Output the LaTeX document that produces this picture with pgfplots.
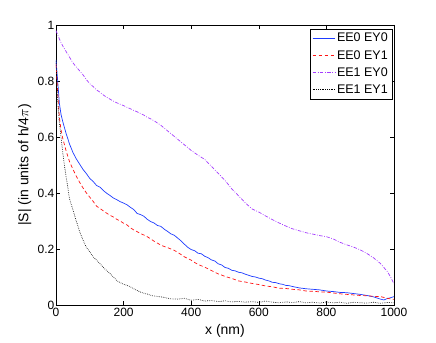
\documentclass[border=0pt]{standalone}
\usepackage{fontspec}
\setmainfont{Liberation Sans}
\usepackage{pgfplots}
\pgfplotsset{compat=1.18}

\definecolor{eeblue}{RGB}{30,60,255}
\definecolor{eered}{RGB}{255,20,20}
\definecolor{eepurple}{RGB}{165,60,255}

\newcommand{\fs}{\fontsize{12bp}{14bp}\selectfont}

\begin{document}
\begin{tikzpicture}
\path[use as bounding box] (-56bp,-38bp) rectangle (380bp,305bp);
\begin{axis}[
scale only axis,
width=338bp, height=280bp,
xmin=0, xmax=1000, ymin=0, ymax=1,
xtick={0,200,400,600,800,1000},
ytick={0,0.2,0.4,0.6,0.8,1},
/pgf/number format/1000 sep={},
/pgf/number format/assume math mode=true,
tick label style={font=\fs},
yticklabel style={inner xsep=1.5bp},
major tick length=4bp,
tick style={black, line width=0.5bp},
axis line style={line width=0.6bp},
xlabel={x (nm)},
ylabel={|S| (in units of h/4$\pi$)},
label style={font=\fontsize{14bp}{16bp}\selectfont},
xlabel style={at={(axis description cs:0.5,-0.093)}, anchor=center},
ylabel style={at={(axis description cs:-0.092,0.5)}, anchor=center},
legend style={at={(0.994,0.986)}, anchor=north east,
  font=\fontsize{12.5bp}{14bp}\selectfont, row sep=3bp, inner sep=2bp},
legend cell align=left,
legend image code/.code={\draw[#1, line width=0.9bp] (0bp,0bp) -- (22bp,0bp);},
every axis plot/.append style={line width=0.7bp},
]
\addplot[draw=eeblue, solid] coordinates {
(0,0.875) (5,0.80) (10,0.72) (15,0.68) (20,0.655) (30,0.612) (40,0.575) (50,0.545)
(60,0.522) (70,0.503) (80,0.484) (90,0.469) (100,0.452) (110,0.441) (120,0.427) (130,0.421)
(140,0.409) (150,0.399) (160,0.391) (170,0.382) (180,0.376) (190,0.369) (200,0.364)
(210,0.358) (220,0.349) (230,0.341) (240,0.327) (250,0.323) (260,0.317) (270,0.306)
(280,0.298) (290,0.293) (300,0.284) (310,0.281) (320,0.271) (330,0.263) (340,0.254)
(350,0.249) (360,0.239) (370,0.229) (380,0.217) (390,0.206) (400,0.198) (410,0.194)
(420,0.185) (430,0.183) (440,0.174) (450,0.169) (460,0.161) (470,0.157) (480,0.147)
(490,0.143) (500,0.134) (510,0.131) (520,0.124) (530,0.122) (540,0.117) (550,0.115)
(560,0.110) (570,0.106) (580,0.102) (590,0.100) (600,0.096) (610,0.094) (620,0.089)
(630,0.086) (640,0.081) (650,0.080) (660,0.076) (670,0.074) (680,0.070) (690,0.069)
(700,0.066) (720,0.061) (740,0.058) (760,0.056) (780,0.054) (800,0.050) (820,0.048)
(840,0.045) (860,0.044) (880,0.041) (900,0.038) (920,0.034) (940,0.029) (960,0.021)
(970,0.018) (980,0.023) (990,0.026) (1000,0.030)
};
\addplot[draw=eered, dash pattern=on 3.5bp off 2.5bp] coordinates {
(0,0.86) (5,0.76) (10,0.67) (15,0.625) (20,0.595) (30,0.55) (40,0.512) (50,0.485)
(60,0.46) (70,0.438) (80,0.418) (90,0.40) (100,0.385) (110,0.37) (120,0.353) (130,0.345)
(140,0.336) (150,0.328) (160,0.32) (170,0.314) (180,0.306) (190,0.30) (200,0.292)
(210,0.286) (220,0.276) (230,0.268) (240,0.262) (250,0.255) (260,0.25) (270,0.244)
(280,0.236) (290,0.228) (300,0.221) (310,0.214) (320,0.209) (330,0.205) (340,0.20)
(350,0.195) (360,0.188) (370,0.180) (380,0.172) (390,0.166) (400,0.160) (410,0.152)
(420,0.145) (430,0.140) (440,0.135) (450,0.129) (460,0.123) (470,0.117) (480,0.111)
(490,0.107) (500,0.102) (520,0.095) (540,0.086) (560,0.082) (580,0.077) (600,0.073)
(620,0.068) (640,0.065) (660,0.060) (680,0.059) (700,0.056) (720,0.054) (740,0.050)
(760,0.049) (780,0.047) (800,0.046) (820,0.043) (840,0.040) (860,0.038) (880,0.036)
(900,0.034) (920,0.033) (940,0.031) (960,0.030) (980,0.024) (1000,0.020)
};
\addplot[draw=eepurple, dash pattern=on 3.5bp off 1.5bp on 0.8bp off 1.5bp] coordinates {
(0,0.98) (10,0.95) (20,0.925) (30,0.905) (40,0.885) (50,0.865) (60,0.85) (70,0.836)
(80,0.822) (90,0.805) (100,0.79) (110,0.78) (120,0.768) (130,0.76) (140,0.75) (150,0.742)
(160,0.735) (170,0.728) (180,0.722) (190,0.717) (200,0.712) (210,0.706) (220,0.701)
(230,0.695) (240,0.69) (250,0.684) (260,0.678) (270,0.67) (280,0.665) (290,0.658)
(300,0.65) (310,0.642) (320,0.632) (330,0.622) (340,0.612) (350,0.602) (360,0.592)
(370,0.582) (380,0.572) (390,0.562) (400,0.552) (420,0.535) (440,0.52) (460,0.495)
(480,0.47) (500,0.445) (520,0.415) (540,0.39) (560,0.365) (580,0.343) (600,0.332)
(620,0.318) (640,0.305) (660,0.293) (680,0.282) (700,0.272) (720,0.265) (740,0.258)
(760,0.253) (780,0.248) (800,0.244) (820,0.236) (840,0.224) (860,0.215) (880,0.207)
(900,0.197) (920,0.184) (940,0.168) (960,0.148) (980,0.12) (990,0.10) (1000,0.075)
};
\addplot[draw=black, dash pattern=on 0.6bp off 1.2bp] coordinates {
(0,0.87) (3,0.78) (6,0.71) (10,0.65) (15,0.60) (20,0.545) (25,0.50) (30,0.458) (40,0.38)
(50,0.34) (60,0.30) (70,0.262) (80,0.232) (90,0.205) (100,0.19) (110,0.172) (120,0.16)
(130,0.148) (140,0.134) (150,0.123) (160,0.112) (170,0.10) (180,0.087) (190,0.08)
(200,0.074) (210,0.07) (220,0.065) (230,0.058) (240,0.052) (250,0.046) (260,0.042)
(270,0.039) (280,0.035) (290,0.032) (300,0.031) (320,0.027) (340,0.022) (360,0.021)
(380,0.024) (400,0.017) (420,0.020) (440,0.014) (460,0.016) (480,0.012) (500,0.015)
(520,0.011) (540,0.013) (560,0.010) (580,0.012) (600,0.009) (620,0.014) (640,0.010)
(660,0.008) (680,0.011) (700,0.009) (720,0.012) (740,0.008) (760,0.010) (780,0.007)
(800,0.011) (820,0.008) (840,0.010) (860,0.006) (880,0.010) (900,0.008) (920,0.007)
(940,0.010) (960,0.006) (980,0.009) (1000,0.008)
};
\legend{EE0 EY0,EE0 EY1,EE1 EY0,EE1 EY1}
\end{axis}
\end{tikzpicture}
\end{document}
